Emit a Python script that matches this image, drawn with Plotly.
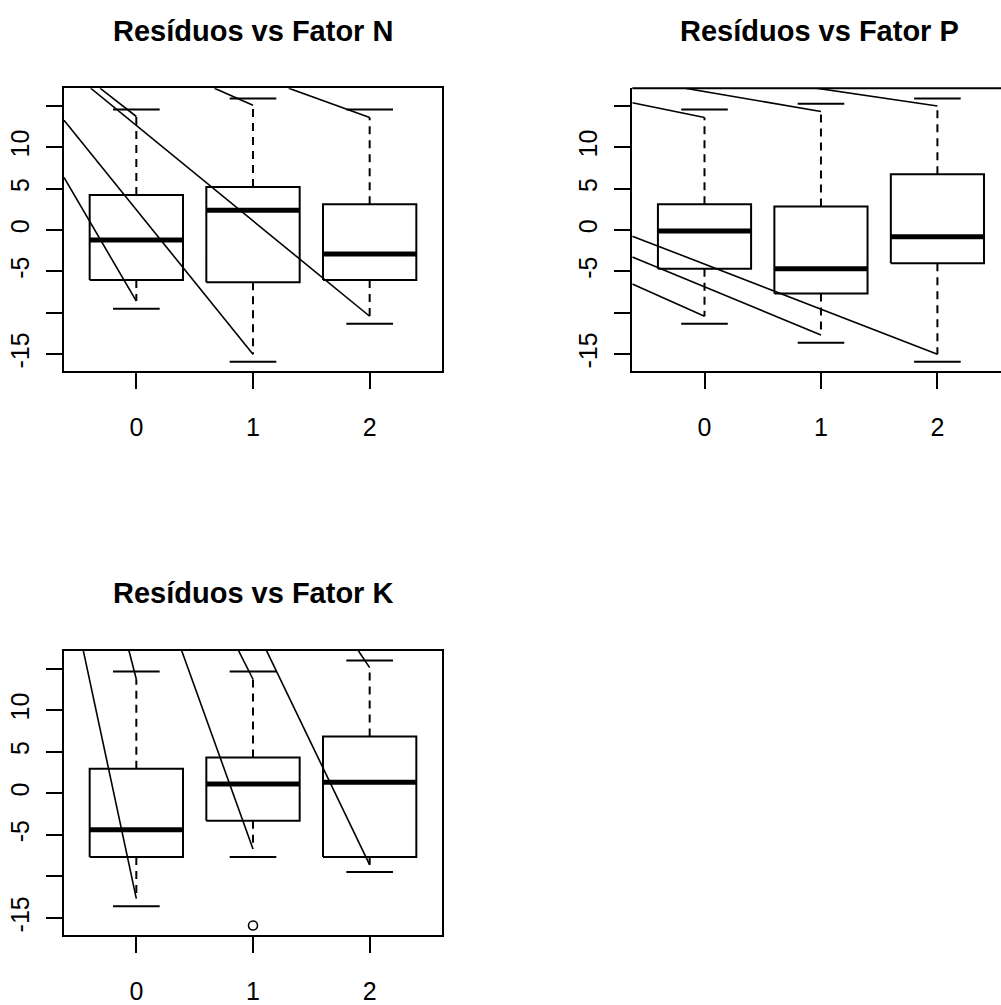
import plotly.graph_objects as go

# ---------------- data ----------------
positions = [1, 2, 3]
level_labels = ["0", "1", "2"]
titles = ["Resíduos vs Fator N", "Resíduos vs Fator P", "Resíduos vs Fator K"]

# Fator N
n_q1 = [-6.03, -6.31, -6.03]
n_med = [-1.21, 2.41, -2.88]
n_q3 = [4.25, 5.20, 3.13]
n_wlo = [-8.58, -15.0, -10.41]
n_whi = [13.73, 15.08, 13.61]
n_caplo = [-9.50, -15.91, -11.33]
n_caphi = [14.57, 15.92, 14.57]
n_seg_x0 = [0.38, 0.38, 0.609, 0.689, 1.669, 2.306]
n_seg_y0 = [6.36, 13.29, 17.15, 17.15, 17.15, 17.15]
n_seg_x1 = [1.0, 2.0, 3.0, 1.0, 2.0, 3.0]
n_seg_y1 = [-8.58, -15.0, -10.41, 13.73, 15.08, 13.61]

# Fator P
p_q1 = [-4.68, -7.67, -4.0]
p_med = [-0.1, -4.68, -0.81]
p_q3 = [3.13, 2.85, 6.76]
p_wlo = [-10.41, -12.68, -15.0]
p_whi = [13.61, 14.33, 15.0]
p_caplo = [-11.33, -13.60, -15.91]
p_caphi = [14.57, 15.28, 15.92]
p_seg_x0 = [0.38, 0.832, 1.960, 0.38, 0.38, 0.38]
p_seg_y0 = [15.40, 17.15, 17.15, -0.73, -3.24, -6.51]
p_seg_x1 = [1.0, 2.0, 3.0, 3.0, 2.0, 1.0]
p_seg_y1 = [13.61, 14.33, 15.0, -15.0, -12.68, -10.41]

# Fator K
k_q1 = [-7.64, -3.29, -7.64]
k_med = [-4.37, 1.13, 1.33]
k_q3 = [2.97, 4.32, 6.83]
k_wlo = [-12.66, -6.68, -8.60]
k_whi = [13.73, 13.73, 15.13]
k_caplo = [-13.58, -7.64, -9.47]
k_caphi = [14.65, 14.65, 16.0]
k_out_x = [2]
k_out_y = [-15.89]
k_seg_x0 = [0.546, 0.937, 1.389, 1.877, 2.117, 2.903]
k_seg_y0 = [17.15, 17.15, 17.15, 17.15, 17.15, 17.15]
k_seg_x1 = [1.0, 1.0, 2.0, 2.0, 3.0, 3.0]
k_seg_y1 = [-12.66, 13.73, -6.68, 13.73, -8.60, 15.13]

y_ticks = [-15, -10, -5, 0, 5, 10, 15]
y_ticktext = ["-15", "", "-5", "0", "5", "10", ""]

# ---------------- style ----------------
BOX_HW = 0.4
CAP_HW = 0.2
FONT = "Liberation Sans, Arial, sans-serif"
Y_RANGE = [-17.02, 17.15]

fig = go.Figure()


def add_panel(xa, ya, q1, med, q3, wlo, whi, caplo, caphi, sx0, sy0, sx1, sy1,
              out_x=None, out_y=None):
    kw = dict(xaxis=xa, yaxis=ya, mode="lines", showlegend=False, hoverinfo="skip")
    for i, c in enumerate(positions):
        # box
        fig.add_trace(go.Scatter(
            x=[c - BOX_HW, c + BOX_HW, c + BOX_HW, c - BOX_HW, c - BOX_HW],
            y=[q1[i], q1[i], q3[i], q3[i], q1[i]],
            line=dict(color="black", width=2), **kw))
        # whiskers (dashed)
        fig.add_trace(go.Scatter(x=[c, c], y=[q3[i], whi[i]],
                                 line=dict(color="black", width=2, dash="8px,6px"), **kw))
        fig.add_trace(go.Scatter(x=[c, c], y=[q1[i], wlo[i]],
                                 line=dict(color="black", width=2, dash="8px,6px"), **kw))
        # caps
        fig.add_trace(go.Scatter(x=[c - CAP_HW, c + CAP_HW], y=[caphi[i], caphi[i]],
                                 line=dict(color="black", width=2), **kw))
        fig.add_trace(go.Scatter(x=[c - CAP_HW, c + CAP_HW], y=[caplo[i], caplo[i]],
                                 line=dict(color="black", width=2), **kw))
        # median
        fig.add_trace(go.Scatter(x=[c - BOX_HW, c + BOX_HW], y=[med[i], med[i]],
                                 line=dict(color="black", width=5), **kw))
    # slanted lines
    for a, b, cc, d in zip(sx0, sy0, sx1, sy1):
        fig.add_trace(go.Scatter(x=[a, cc], y=[b, d],
                                 line=dict(color="black", width=1.6), **kw))
    if out_x:
        fig.add_trace(go.Scatter(x=out_x, y=out_y, mode="markers", xaxis=xa, yaxis=ya,
                                 showlegend=False, hoverinfo="skip",
                                 marker=dict(symbol="circle-open", size=9,
                                             color="black", line=dict(width=1.6))))


add_panel("x", "y", n_q1, n_med, n_q3, n_wlo, n_whi, n_caplo, n_caphi,
          n_seg_x0, n_seg_y0, n_seg_x1, n_seg_y1)
add_panel("x2", "y2", p_q1, p_med, p_q3, p_wlo, p_whi, p_caplo, p_caphi,
          p_seg_x0, p_seg_y0, p_seg_x1, p_seg_y1)
add_panel("x3", "y3", k_q1, k_med, k_q3, k_wlo, k_whi, k_caplo, k_caphi,
          k_seg_x0, k_seg_y0, k_seg_x1, k_seg_y1, k_out_x, k_out_y)

W, H = 1001, 1005
left_dom = [64 / W, 442 / W]
right_dom = [632.3 / W, 1.0]
top_dom = [1 - 374.3 / H, 1 - 89 / H]
bot_dom = [1 - 943.3 / H, 1 - 656.7 / H]


def xax(domain, rng, anchor, mirror):
    return dict(domain=domain, range=rng, anchor=anchor, showgrid=False, zeroline=False,
                showline=True, linecolor="black", linewidth=2, mirror=mirror,
                ticks="outside", ticklen=16, tickwidth=2, tickcolor="black",
                tickvals=positions, ticktext=level_labels, ticklabelstandoff=17,
                tickfont=dict(family=FONT, size=25, color="black"), fixedrange=True)


def yax(domain, anchor, mirror):
    return dict(domain=domain, range=Y_RANGE, anchor=anchor, showgrid=False, zeroline=False,
                showline=True, linecolor="black", linewidth=2, mirror=mirror,
                ticks="outside", ticklen=16, tickwidth=2, tickcolor="black",
                tickvals=y_ticks, ticktext=y_ticktext, tickangle=-90, ticklabelstandoff=7,
                tickfont=dict(family=FONT, size=25, color="black"), fixedrange=True)


fig.update_layout(
    width=W, height=H,
    margin=dict(l=0, r=0, t=0, b=0),
    paper_bgcolor="white", plot_bgcolor="white",
    showlegend=False,
    xaxis=xax(left_dom, [0.38, 3.62], "y", True),
    yaxis=yax(top_dom, "x", True),
    xaxis2=xax(right_dom, [0.38, 3.546], "y2", False),
    yaxis2=yax(top_dom, "x2", False),
    xaxis3=xax(left_dom, [0.38, 3.62], "y3", True),
    yaxis3=yax(bot_dom, "x3", True),
)

# top border of the (cropped) right panel
fig.add_shape(type="line", xref="x2 domain", yref="y2 domain", x0=0, x1=1, y0=1, y1=1,
              line=dict(color="black", width=2))

title_x = [253 / W, 819 / W, 253 / W]
title_y = [1 - 31 / H, 1 - 31 / H, 1 - (31 + 567.7) / H]
for t, tx, ty in zip(titles, title_x, title_y):
    fig.add_annotation(text="<b>" + t + "</b>", x=tx, y=ty, xref="paper", yref="paper",
                       xanchor="center", yanchor="middle", showarrow=False,
                       font=dict(family=FONT, size=29, color="black"))

fig.write_html("out.html")
